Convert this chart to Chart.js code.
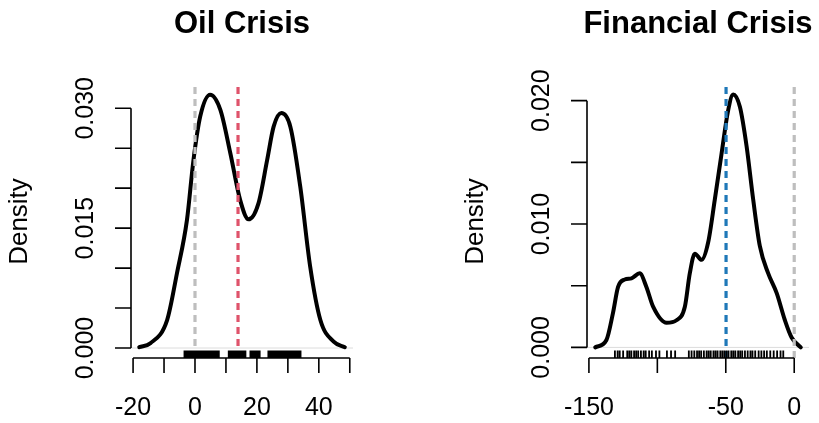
<!DOCTYPE html>
<html lang="en">
<head>
<meta charset="UTF-8">
<title>Oil Crisis / Financial Crisis densities</title>
<script src="https://cdn.jsdelivr.net/npm/chart.js@4.4.1/dist/chart.umd.min.js"></script>
<style>
    body { margin: 0; background: #fff; }
    #wrap { position: relative; width: 819px; height: 423px; }
    #wrap canvas { position: absolute; left: 0; top: 0; }
</style>
</head>
<body>
<div id="wrap">
    <canvas id="oil" width="819" height="423"></canvas>
    <canvas id="fin" width="819" height="423"></canvas>
</div>
<script>
// ---- Oil Crisis panel ----
const oilTitle = 'Oil Crisis';
const oilX = [-18.0, -14.4, -9.0, -5.8, -2.6, -0.5, 1.7, 4.9, 8.2, 11.4, 14.6, 17.3, 20.5, 23.3, 25.4, 27.9, 30.8, 34.0, 37.2, 40.5, 44.8, 48.4];
const oilY = [0.0001, 0.0006, 0.0035, 0.0094, 0.0160, 0.0235, 0.0290, 0.0317, 0.0298, 0.0244, 0.0185, 0.0161, 0.0181, 0.0235, 0.0277, 0.0294, 0.0277, 0.0202, 0.0102, 0.0035, 0.0008, 0.0001];
const oilRug = [
    -3.4, -3.0, -2.7, -2.3, -2.0, -1.6, -1.3, -1.0, -0.6, -0.3, 0.1, 0.4, 0.8, 1.1, 1.5, 1.8, 2.1, 2.5, 2.8, 3.2, 3.5, 3.9, 4.2, 4.5, 4.9, 5.2, 5.6, 5.9, 6.3, 6.6, 7.0, 7.3, 7.7,
    10.9, 11.2, 11.6, 11.9, 12.3, 12.6, 13.0, 13.3, 13.7, 14.0, 14.4, 14.7, 15.1, 15.4, 15.8, 16.1, 16.3,
    17.9, 18.2, 18.6, 18.9, 19.3, 19.6, 20.0, 20.3, 20.6, 20.9,
    23.7, 24.0, 24.4, 24.7, 25.1, 25.4, 25.8, 26.1, 26.5, 26.8, 27.2, 27.5, 27.9, 28.2, 28.6, 28.9, 29.3, 29.6, 30.0, 30.3, 30.7, 31.0, 31.4, 31.7, 32.1, 32.4, 32.8, 33.1, 33.5, 33.8, 34.1
];
const oilRefX = [0, 13.9];
const oilRefColors = ['#bebebe', '#df536b'];
const oilXTicks = [-20, -10, 0, 10, 20, 30, 40, 50];
const oilXLabels = ['-20', '', '0', '', '20', '', '40', ''];
const oilYTicks = [0, 0.005, 0.010, 0.015, 0.020, 0.025, 0.030];
const oilYLabels = ['0.000', '', '', '0.015', '', '', '0.030'];

// ---- Financial Crisis panel ----
const finTitle = 'Financial Crisis';
const finX = [-145.4, -137.2, -132.4, -128.7, -123.8, -118.9, -112.9, -108.0, -103.1, -93.3, -86.0, -79.9, -76.3, -72.6, -67.7, -62.9, -58.0, -53.1, -48.3, -44.6, -39.7, -34.8, -30.0, -25.1, -19.0, -12.8, -6.8, -1.9, 4.8];
const finY = [0.0000, 0.0006, 0.0028, 0.0049, 0.0055, 0.0056, 0.0060, 0.0049, 0.0033, 0.0020, 0.0022, 0.0033, 0.0060, 0.0076, 0.0071, 0.0085, 0.0120, 0.0157, 0.0192, 0.0205, 0.0195, 0.0163, 0.0120, 0.0082, 0.0060, 0.0044, 0.0022, 0.0008, 0.0000];
const finRug = [
    -131, -129, -127.5, -125, -122, -120.5, -119, -117, -115.5, -114, -112, -110, -108.5, -106, -104, -101, -98.5, -93, -90, -87,
    -77, -75, -73, -71, -69.5, -68, -66, -64, -62.5, -61, -59, -57.5, -56, -54, -52.5, -51, -49.5, -48, -46, -44.5, -43, -41,
    -39.5, -38, -36, -34, -32, -30.5, -28.5, -26, -24, -22, -20, -17.5, -15, -12.5, -10, -8
];
const finRefX = [-49.8, 0];
const finRefColors = ['#1f78b8', '#bebebe'];
const finXTicks = [-150, -100, -50, 0];
const finXLabels = ['-150', '', '-50', '0'];
const finYTicks = [0, 0.005, 0.010, 0.015, 0.020];
const finYLabels = ['0.000', '', '0.010', '', '0.020'];

const FONT = '"Liberation Sans", Arial, Helvetica, sans-serif';

// R-style axes, rug and titles, drawn with the chart's own scales
const rAxes = {
    id: 'rAxes',
    afterDraw(chart) {
        const o = chart.options.plugins.rAxes;
        const ctx = chart.ctx;
        const xs = chart.scales.x, ys = chart.scales.y;
        const area = chart.chartArea;
        ctx.save();
        ctx.strokeStyle = '#000';
        ctx.fillStyle = '#000';

        // rug
        ctx.lineWidth = 1.8;
        ctx.beginPath();
        o.rug.forEach(v => {
            const px = xs.getPixelForValue(v);
            ctx.moveTo(px, area.bottom);
            ctx.lineTo(px, area.bottom - 7.5);
        });
        ctx.stroke();

        // x axis
        ctx.lineWidth = 1.6;
        const xa = xs.getPixelForValue(o.xTicks[0]);
        const xb = xs.getPixelForValue(o.xTicks[o.xTicks.length - 1]);
        ctx.beginPath();
        ctx.moveTo(xa, area.bottom);
        ctx.lineTo(xb, area.bottom);
        o.xTicks.forEach(v => {
            const px = xs.getPixelForValue(v);
            ctx.moveTo(px, area.bottom);
            ctx.lineTo(px, area.bottom + 15);
        });
        // y axis
        const ya = ys.getPixelForValue(o.yTicks[0]);
        const yb = ys.getPixelForValue(o.yTicks[o.yTicks.length - 1]);
        ctx.moveTo(area.left, ya);
        ctx.lineTo(area.left, yb);
        o.yTicks.forEach(v => {
            const py = ys.getPixelForValue(v);
            ctx.moveTo(area.left, py);
            ctx.lineTo(area.left - 16, py);
        });
        ctx.stroke();

        // tick labels
        ctx.font = '25px ' + FONT;
        ctx.textAlign = 'center';
        ctx.textBaseline = 'alphabetic';
        o.xTicks.forEach((v, i) => {
            if (o.xLabels[i]) ctx.fillText(o.xLabels[i], xs.getPixelForValue(v), 415);
        });
        o.yTicks.forEach((v, i) => {
            if (!o.yLabels[i]) return;
            ctx.save();
            ctx.translate(area.left - 38, ys.getPixelForValue(v));
            ctx.rotate(-Math.PI / 2);
            ctx.fillText(o.yLabels[i], 0, 0);
            ctx.restore();
        });

        // y title
        ctx.save();
        ctx.font = '26px ' + FONT;
        ctx.translate(area.left - 104, (area.top + area.bottom) / 2);
        ctx.rotate(-Math.PI / 2);
        ctx.fillText('Density', 0, 0);
        ctx.restore();

        // main title
        ctx.font = 'bold 31px ' + FONT;
        ctx.fillText(o.title, (area.left + area.right) / 2, 33);
        ctx.restore();
    }
};

function makePanel(id, p) {
    const refSets = p.refX.map((v, i) => ({
        data: [{ x: v, y: p.yMin }, { x: v, y: p.yMax }],
        borderColor: p.refColors[i],
        borderWidth: 3.2,
        borderDash: [7, 5],
        pointRadius: 0
    }));
    new Chart(document.getElementById(id), {
        type: 'line',
        data: {
            datasets: [
                ...refSets,
                {
                    data: p.x.map((v, i) => ({ x: v, y: p.y[i] })),
                    borderColor: '#000',
                    borderWidth: 4,
                    pointRadius: 0,
                    cubicInterpolationMode: 'monotone',
                    borderCapStyle: 'round',
                    borderJoinStyle: 'round'
                },
                {
                    // zero line
                    data: [{ x: p.xMin, y: 0 }, { x: p.xMax, y: 0 }],
                    borderColor: '#dcdcdc',
                    borderWidth: 1,
                    pointRadius: 0
                }
            ]
        },
        options: {
            responsive: false,
            animation: false,
            layout: { padding: p.padding },
            scales: {
                x: { type: 'linear', min: p.xMin, max: p.xMax, display: false },
                y: { type: 'linear', min: p.yMin, max: p.yMax, display: false }
            },
            plugins: {
                legend: { display: false },
                tooltip: { enabled: false },
                rAxes: {
                    title: p.title, rug: p.rug,
                    xTicks: p.xTicks, xLabels: p.xLabels,
                    yTicks: p.yTicks, yLabels: p.yLabels
                }
            }
        },
        plugins: [rAxes]
    });
}

makePanel('oil', {
    title: oilTitle, x: oilX, y: oilY, rug: oilRug,
    refX: oilRefX, refColors: oilRefColors,
    xTicks: oilXTicks, xLabels: oilXLabels, yTicks: oilYTicks, yLabels: oilYLabels,
    xMin: -20.67, xMax: 51.04, yMin: -0.00125, yMax: 0.03291,
    padding: { left: 131, right: 466, top: 85, bottom: 65 }
});
makePanel('fin', {
    title: finTitle, x: finX, y: finY, rug: finRug,
    refX: finRefX, refColors: finRefColors,
    xTicks: finXTicks, xLabels: finXLabels, yTicks: finYTicks, yLabels: finYLabels,
    xMin: -151.4, xMax: 10.8, yMin: -0.00086, yMax: 0.02127,
    padding: { left: 587, right: 10, top: 85, bottom: 65 }
});
</script>
</body>
</html>
